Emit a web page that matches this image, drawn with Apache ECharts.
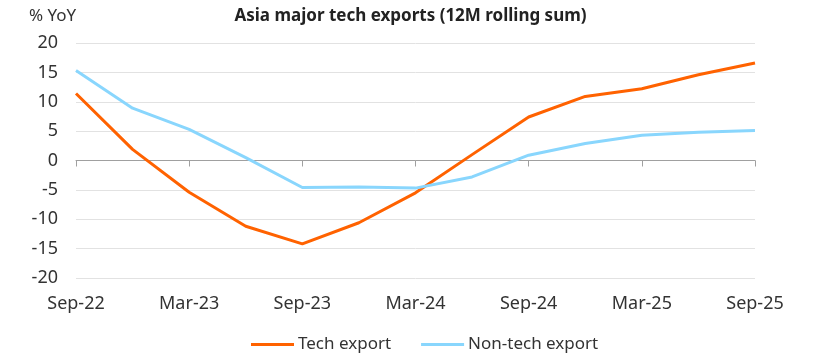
<!DOCTYPE html>
<html>
<head>
<meta charset="utf-8">
<script src="https://cdn.jsdelivr.net/npm/echarts@6/dist/echarts.min.js"></script>
<style>html,body{margin:0;padding:0;background:#fff}#c{width:821px;height:356px}</style>
</head>
<body>
<div id="c"></div>
<script>
const categories = ['Sep-22','Dec-22','Mar-23','Jun-23','Sep-23','Dec-23','Mar-24','Jun-24','Sep-24','Dec-24','Mar-25','Jun-25','Sep-25'];
const techExport = [11.4, 1.9, -5.4, -11.2, -14.2, -10.6, -5.5, 1.0, 7.4, 10.9, 12.2, 14.6, 16.6];
const nonTechExport = [15.3, 8.9, 5.3, 0.5, -4.6, -4.5, -4.7, -2.8, 0.9, 2.9, 4.3, 4.8, 5.1];
const yTicks = { min: -20, max: 20, interval: 5 };

const FONT = 'Noto Sans';
const chart = echarts.init(document.getElementById('c'), null, { renderer: 'canvas' });
chart.setOption({
  animation: false,
  backgroundColor: '#fff',
  textStyle: { fontFamily: FONT },
  title: [
    { text: 'Asia major tech exports (12M rolling sum)', left: 'center', top: 3,
      textStyle: { fontFamily: FONT, fontSize: 17, fontWeight: 'bold', color: '#222' } },
    { text: '% YoY', left: 24, top: 3,
      textStyle: { fontFamily: FONT, fontSize: 17, fontWeight: 'normal', color: '#333' } }
  ],
  grid: { left: 76, right: 66, top: 43, bottom: 78, containLabel: false },
  legend: {
    bottom: -2, left: 246,
    itemWidth: 43, itemHeight: 3, itemGap: 30,
    textStyle: { fontFamily: FONT, fontSize: 17, color: '#333', padding: [0, 0, 0, -1] },
    data: [{ name: 'Tech export', icon: 'rect' }, { name: 'Non-tech export', icon: 'rect' }]
  },
  xAxis: [
    { type: 'category', data: categories, boundaryGap: false, position: 'bottom',
      axisLine: { show: false, onZero: false }, axisTick: { show: false },
      axisLabel: { interval: 1, fontFamily: FONT, fontSize: 18, color: '#333', margin: 17 } },
    { type: 'category', data: categories, boundaryGap: false, position: 'bottom',
      axisLine: { show: true, onZero: true, lineStyle: { color: '#a0a0a0', width: 1 } },
      axisTick: { show: true, interval: 1, length: 6, inside: false, lineStyle: { color: '#a0a0a0' } },
      axisLabel: { show: false } }
  ],
  yAxis: {
    type: 'value', min: yTicks.min, max: yTicks.max, interval: yTicks.interval,
    axisLine: { show: false }, axisTick: { show: false },
    axisLabel: { fontFamily: FONT, fontSize: 18, color: '#333', margin: 18 },
    splitLine: { lineStyle: { color: '#e2e2e2', width: 1 } }
  },
  series: [
    { name: 'Tech export', type: 'line', data: techExport, symbol: 'none', xAxisIndex: 0,
      lineStyle: { color: '#FF6200', width: 3 }, itemStyle: { color: '#FF6200' } },
    { name: 'Non-tech export', type: 'line', data: nonTechExport, symbol: 'none', xAxisIndex: 0,
      lineStyle: { color: '#89D6FD', width: 3 }, itemStyle: { color: '#89D6FD' } }
  ]
});
</script>
</body>
</html>
